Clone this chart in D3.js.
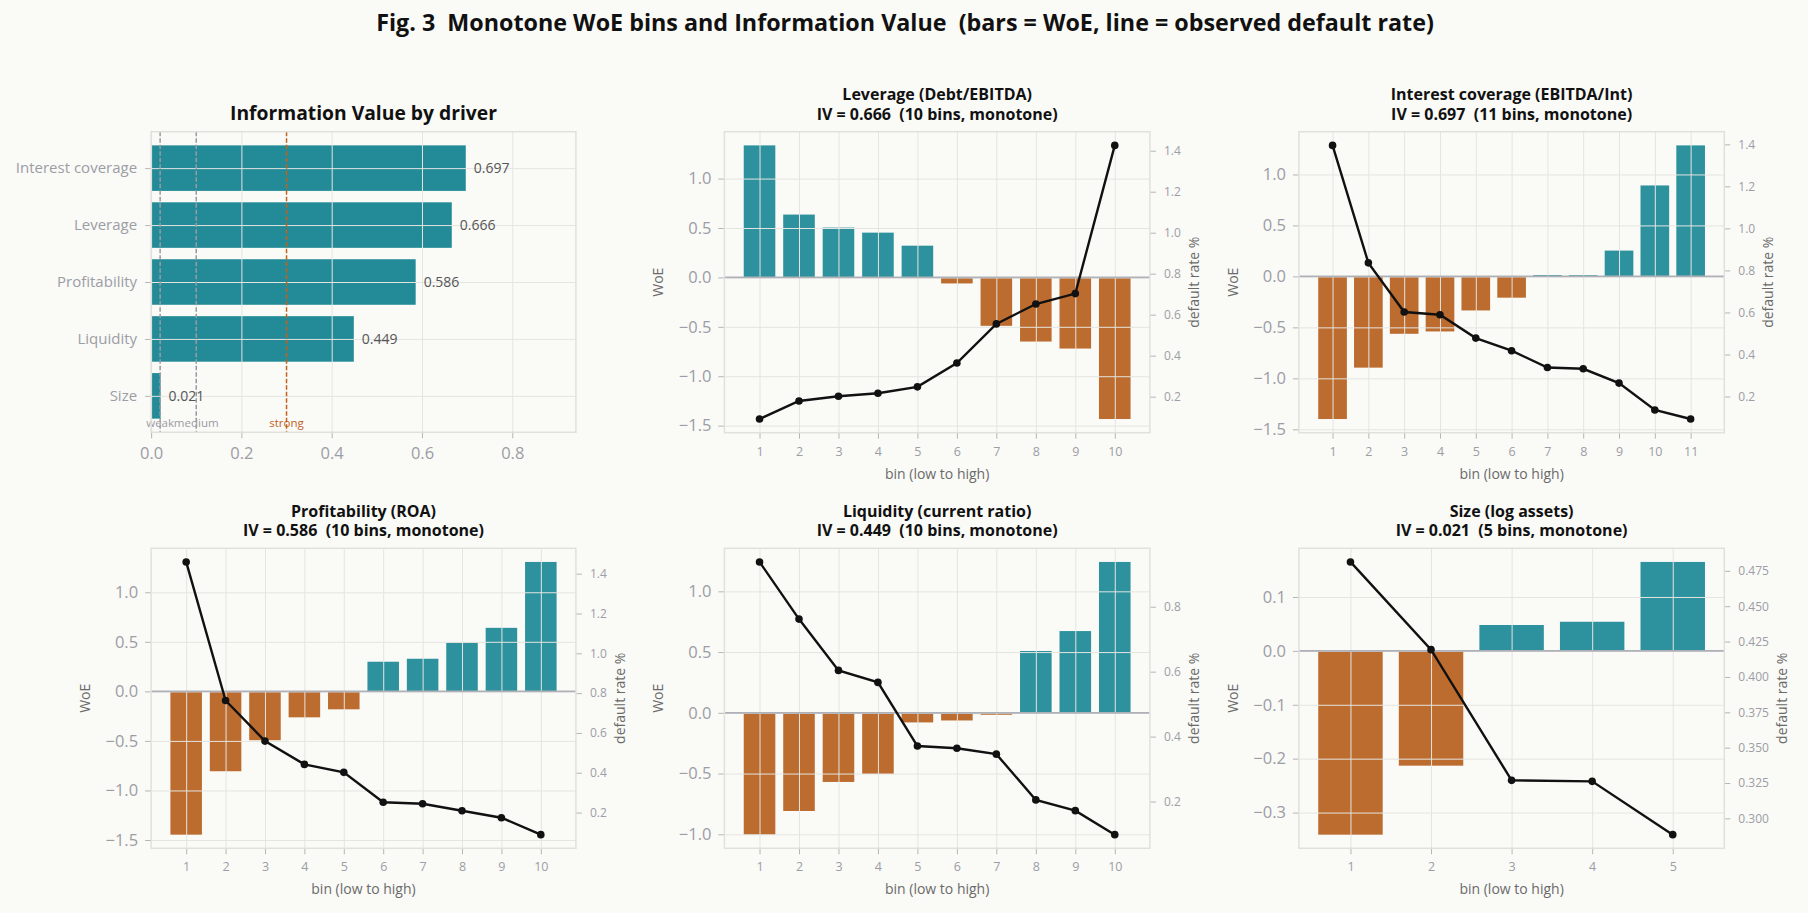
<!DOCTYPE html>
<html>
<head>
<meta charset="utf-8">
<script src="https://cdn.jsdelivr.net/npm/d3@7"></script>
<style>
  body { margin: 0; background: #fafaf7; }
  svg  { display: block; font-family: "Open Sans", "Noto Sans", sans-serif; }
  svg text { white-space: pre; }
</style>
</head>
<body>
<svg id="fig" width="1808" height="913"></svg>
<script>
// ---- data ----
const drivers      = ['Interest coverage', 'Leverage', 'Profitability', 'Liquidity', 'Size'];
const ivValues     = [0.697, 0.666, 0.586, 0.449, 0.021];
const ivThresholds = [0.02, 0.1, 0.3];
const ivThreshLbls = ['weak', 'medium', 'strong'];

const levWoe   = [1.336, 0.636, 0.504, 0.453, 0.321, -0.061, -0.490, -0.649, -0.720, -1.433];
const levRate  = [0.091, 0.179, 0.202, 0.217, 0.248, 0.364, 0.555, 0.652, 0.703, 1.426];
const icWoe    = [-1.399, -0.895, -0.563, -0.540, -0.334, -0.209, 0.013, 0.012, 0.253, 0.892, 1.285];
const icRate   = [1.395, 0.836, 0.602, 0.589, 0.478, 0.418, 0.338, 0.332, 0.264, 0.136, 0.093];
const profWoe  = [-1.446, -0.806, -0.493, -0.262, -0.181, 0.299, 0.329, 0.490, 0.641, 1.306];
const profRate = [1.459, 0.763, 0.559, 0.442, 0.402, 0.252, 0.244, 0.209, 0.174, 0.089];
const liqWoe   = [-1.003, -0.808, -0.569, -0.503, -0.079, -0.063, -0.016, 0.509, 0.673, 1.242];
const liqRate  = [0.938, 0.762, 0.604, 0.567, 0.371, 0.364, 0.346, 0.205, 0.172, 0.098];
const sizeWoe  = [-0.341, -0.213, 0.048, 0.054, 0.165];
const sizeRate = [0.4813, 0.4193, 0.3269, 0.3262, 0.2885];
const sizeRateTicks = [0.300, 0.325, 0.350, 0.375, 0.400, 0.425, 0.450, 0.475];

// ---- style ----
const BG = '#fafaf7', GRID = '#e4e4e0', FRAME = '#e0e0dc';
const TEAL_IV = '#238b97', TEAL = '#2d929e', ORANGE = '#bd6c2f';
const TICK = '#9c9da5', LABEL = '#6a6a6a';

const svg = d3.select('#fig');
svg.append('rect').attr('width', 1808).attr('height', 913).attr('fill', BG);

svg.append('text')
  .attr('x', 905).attr('y', 31)
  .attr('text-anchor', 'middle')
  .attr('font-size', 23.3).attr('font-weight', 'bold').attr('fill', '#111')
  .text('Fig. 3  Monotone WoE bins and Information Value  (bars = WoE, line = observed default rate)');

const cols = [[151.1, 575.9], [724.4, 1149.9], [1298.9, 1724.3]];
const rows = [[131.7, 432.7], [548.3, 848.3]];

// matplotlib-like 5% margin
const pad = ([a, b], f = 0.05) => [a - (b - a) * f, b + (b - a) * f];

function cleanAxis(g, size, color) {
  g.attr('font-family', null);
  g.select('.domain').remove();
  g.selectAll('.tick line').attr('stroke', '#b5b5b5');
  g.selectAll('.tick text').attr('fill', color).attr('font-size', size);
}

function gridX(g, x, vals, y0, y1) {
  g.append('g').attr('transform', `translate(0,${y1})`)
    .call(d3.axisBottom(x).tickValues(vals).tickSize(-(y1 - y0)).tickFormat(''))
    .call(a => { a.select('.domain').remove(); a.selectAll('line').attr('stroke', GRID); });
}
function gridY(g, y, vals, x0, x1) {
  g.append('g').attr('transform', `translate(${x0},0)`)
    .call(d3.axisLeft(y).tickValues(vals).tickSize(-(x1 - x0)).tickFormat(''))
    .call(a => { a.select('.domain').remove(); a.selectAll('line').attr('stroke', GRID); });
}

// ---- panel 1: IV by driver ----
function drawIV([x0, x1], [y0, y1]) {
  const g = svg.append('g');
  const x = d3.scaleLinear().domain([0, d3.max(ivValues) * 1.35]).range([x0, x1]);
  const y = d3.scaleLinear().domain(pad([-0.4, drivers.length - 0.6])).range([y0, y1]);

  g.selectAll('rect.bar').data(ivValues).join('rect')
    .attr('x', x(0)).attr('width', d => x(d) - x(0))
    .attr('y', (d, i) => y(i - 0.4)).attr('height', (d, i) => y(i + 0.4) - y(i - 0.4))
    .attr('fill', TEAL_IV);

  const xt = [0, 0.2, 0.4, 0.6, 0.8];
  gridX(g, x, xt, y0, y1);
  gridY(g, y, d3.range(drivers.length), x0, x1);

  ivThresholds.forEach((t, i) => {
    const c = i === 2 ? '#c0621c' : '#9a9aa2';
    g.append('line').attr('x1', x(t)).attr('x2', x(t)).attr('y1', y0).attr('y2', y1)
      .attr('stroke', c).attr('stroke-width', 1.5).attr('stroke-dasharray', '4.5,2');
    g.append('text').attr('x', x(t)).attr('y', y1 - 5)
      .attr('text-anchor', 'middle').attr('font-size', 11.5).attr('fill', c)
      .text(ivThreshLbls[i]);
  });

  g.selectAll('text.val').data(ivValues).join('text')
    .attr('x', d => x(d) + 8).attr('y', (d, i) => y(i)).attr('dy', '0.35em')
    .attr('font-size', 14).attr('fill', '#555')
    .text(d => d3.format('.3f')(d));

  g.append('g').attr('transform', `translate(0,${y1})`)
    .call(d3.axisBottom(x).tickValues(xt).tickFormat(d3.format('.1f')).tickSize(6).tickPadding(9))
    .call(a => cleanAxis(a, 16.5, TICK));
  g.append('g').attr('transform', `translate(${x0},0)`)
    .call(d3.axisLeft(y).tickValues(d3.range(drivers.length)).tickFormat(i => drivers[i]).tickSize(6).tickPadding(8))
    .call(a => cleanAxis(a, 15, TICK));

  g.append('rect').attr('x', x0).attr('y', y0).attr('width', x1 - x0).attr('height', y1 - y0)
    .attr('fill', 'none').attr('stroke', FRAME).attr('stroke-width', 1.5);

  g.append('text').attr('x', (x0 + x1) / 2).attr('y', y0 - 12)
    .attr('text-anchor', 'middle').attr('font-size', 19.3).attr('font-weight', 'bold').attr('fill', '#111')
    .text('Information Value by driver');
}

// ---- WoE panels ----
function drawWoe([x0, x1], [y0, y1], title, iv, woe, rate, rateTicks, rateFmt) {
  const g = svg.append('g');
  const n = woe.length;
  const bins = d3.range(1, n + 1);
  const x = d3.scaleLinear().domain(pad([0.6, n + 0.4])).range([x0, x1]);
  const y = d3.scaleLinear().domain(pad([Math.min(0, d3.min(woe)), Math.max(0, d3.max(woe))])).range([y1, y0]);
  const yr = d3.scaleLinear().domain(pad(d3.extent(rate))).range([y1, y0]);
  const yt = y.ticks(5);
  const rt = rateTicks || yr.ticks(5);

  g.selectAll('rect.bar').data(woe).join('rect')
    .attr('x', (d, i) => x(i + 1 - 0.4)).attr('width', x(1.4) - x(0.6))
    .attr('y', d => y(Math.max(0, d))).attr('height', d => Math.abs(y(d) - y(0)))
    .attr('fill', d => d >= 0 ? TEAL : ORANGE);

  gridX(g, x, bins, y0, y1);
  gridY(g, y, yt, x0, x1);

  g.append('line').attr('x1', x0).attr('x2', x1).attr('y1', y(0)).attr('y2', y(0))
    .attr('stroke', '#aeb1b8').attr('stroke-width', 1.8);

  const line = d3.line().x((d, i) => x(i + 1)).y(d => yr(d));
  g.append('path').datum(rate).attr('d', line)
    .attr('fill', 'none').attr('stroke', '#111').attr('stroke-width', 2.4);
  g.selectAll('circle').data(rate).join('circle')
    .attr('cx', (d, i) => x(i + 1)).attr('cy', d => yr(d)).attr('r', 3.8).attr('fill', '#111');

  g.append('g').attr('transform', `translate(0,${y1})`)
    .call(d3.axisBottom(x).tickValues(bins).tickFormat(d3.format('d')).tickSize(6).tickPadding(8))
    .call(a => cleanAxis(a, 12.5, TICK));
  g.append('g').attr('transform', `translate(${x0},0)`)
    .call(d3.axisLeft(y).tickValues(yt).tickFormat(d3.format('.1f')).tickSize(6).tickPadding(7))
    .call(a => cleanAxis(a, 16.5, TICK));
  const ra = g.append('g').attr('transform', `translate(${x1},0)`)
    .call(d3.axisRight(yr).tickValues(rt).tickFormat(d3.format(rateFmt)).tickSize(6).tickPadding(8))
    .call(a => cleanAxis(a, 12, TICK));

  g.append('rect').attr('x', x0).attr('y', y0).attr('width', x1 - x0).attr('height', y1 - y0)
    .attr('fill', 'none').attr('stroke', FRAME).attr('stroke-width', 1.5);

  // axis labels
  const cy = (y0 + y1) / 2;
  g.append('text').attr('transform', `translate(${x0 - 61},${cy}) rotate(-90)`)
    .attr('text-anchor', 'middle').attr('font-size', 14).attr('fill', LABEL).text('WoE');
  const rightW = d3.max(ra.selectAll('.tick text').nodes(), t => t.getComputedTextLength());
  g.append('text').attr('transform', `translate(${x1 + 14 + rightW + 18},${cy}) rotate(-90)`)
    .attr('text-anchor', 'middle').attr('font-size', 14).attr('fill', LABEL).text('default rate %');
  g.append('text').attr('x', (x0 + x1) / 2).attr('y', y1 + 46)
    .attr('text-anchor', 'middle').attr('font-size', 14).attr('fill', LABEL).text('bin (low to high)');

  const cx = (x0 + x1) / 2;
  g.append('text').attr('x', cx).attr('y', y0 - 31.5)
    .attr('text-anchor', 'middle').attr('font-size', 16).attr('font-weight', 'bold').attr('fill', '#111')
    .text(title);
  g.append('text').attr('x', cx).attr('y', y0 - 12)
    .attr('text-anchor', 'middle').attr('font-size', 16).attr('font-weight', 'bold').attr('fill', '#111')
    .text(`IV = ${d3.format('.3f')(iv)}  (${n} bins, monotone)`);
}

drawIV(cols[0], [131.7, 432.3]);
drawWoe(cols[1], rows[0], 'Leverage (Debt/EBITDA)', ivValues[1], levWoe, levRate, null, '.1f');
drawWoe(cols[2], rows[0], 'Interest coverage (EBITDA/Int)', ivValues[0], icWoe, icRate, null, '.1f');
drawWoe(cols[0], rows[1], 'Profitability (ROA)', ivValues[2], profWoe, profRate, null, '.1f');
drawWoe(cols[1], rows[1], 'Liquidity (current ratio)', ivValues[3], liqWoe, liqRate, null, '.1f');
drawWoe(cols[2], rows[1], 'Size (log assets)', ivValues[4], sizeWoe, sizeRate, sizeRateTicks, '.3f');
</script>
</body>
</html>
